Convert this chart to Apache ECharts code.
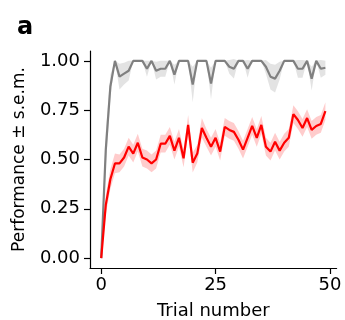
<!DOCTYPE html>
<html>
<head>
<meta charset="utf-8">
<script src="https://cdn.jsdelivr.net/npm/echarts@6/dist/echarts.min.js"></script>
<style>html,body{margin:0;padding:0;background:#fff;}#c{width:345px;height:320px;}</style>
</head>
<body>
<div id="c"></div>
<script>
const trials = Array.from({length: 50}, (_, i) => i);
const grayMean = [0.0, 0.55, 0.87, 1.0, 0.92, 0.935, 0.95, 1.0, 1.0, 1.0,
  0.96, 1.0, 0.95, 0.96, 0.96, 1.0, 0.93, 1.0, 1.0, 1.0,
  0.88, 1.0, 1.0, 1.0, 0.885, 1.0, 1.0, 1.0, 0.97, 0.96,
  1.0, 1.0, 0.96, 1.0, 1.0, 1.0, 0.97, 0.92, 0.91, 0.95,
  1.0, 1.0, 1.0, 0.96, 0.96, 1.0, 0.91, 1.0, 0.96, 0.965];
const graySem = [0.0, 0.09, 0.06, 0.0, 0.065, 0.055, 0.05, 0.0, 0.0, 0.0,
  0.04, 0.0, 0.045, 0.04, 0.04, 0.0, 0.05, 0.0, 0.0, 0.0,
  0.09, 0.0, 0.0, 0.0, 0.08, 0.0, 0.0, 0.0, 0.035, 0.05,
  0.0, 0.0, 0.045, 0.0, 0.0, 0.0, 0.035, 0.065, 0.07, 0.045,
  0.0, 0.0, 0.0, 0.045, 0.045, 0.0, 0.06, 0.0, 0.045, 0.035];
const redMean = [0.0, 0.27, 0.40, 0.48, 0.48, 0.51, 0.565, 0.53, 0.585, 0.51,
  0.50, 0.48, 0.50, 0.58, 0.58, 0.62, 0.545, 0.61, 0.506, 0.675,
  0.484, 0.53, 0.66, 0.61, 0.565, 0.61, 0.54, 0.665, 0.65, 0.64,
  0.60, 0.55, 0.61, 0.67, 0.61, 0.675, 0.565, 0.54, 0.59, 0.545,
  0.585, 0.61, 0.73, 0.70, 0.66, 0.71, 0.65, 0.67, 0.68, 0.745];
const redSem = [0.0, 0.05, 0.05, 0.05, 0.045, 0.045, 0.045, 0.045, 0.045, 0.045,
  0.045, 0.045, 0.045, 0.045, 0.045, 0.045, 0.045, 0.045, 0.045, 0.05,
  0.05, 0.045, 0.05, 0.045, 0.045, 0.045, 0.045, 0.045, 0.045, 0.045,
  0.045, 0.045, 0.045, 0.045, 0.045, 0.045, 0.045, 0.045, 0.045, 0.045,
  0.045, 0.045, 0.045, 0.045, 0.045, 0.045, 0.045, 0.045, 0.045, 0.045];
const xTicks = [0, 25, 50];
const yTicks = [0, 0.25, 0.5, 0.75, 1.0];

function pairs(vals) { return trials.map((t, i) => [t, vals[i]]); }

function bandSeries(mean, sem, color) {
  const rows = trials.map((t, i) => [t, mean[i] - sem[i], mean[i] + sem[i]]);
  return {
    type: 'custom',
    silent: true,
    z: 1,
    data: rows,
    encode: {x: 0, y: [1, 2]},
    renderItem: function (params, api) {
      if (params.dataIndex !== 0) return null;
      const upper = rows.map(r => api.coord([r[0], r[2]]));
      const lower = rows.slice().reverse().map(r => api.coord([r[0], r[1]]));
      return {
        type: 'polygon',
        shape: {points: upper.concat(lower)},
        style: {fill: color, stroke: null}
      };
    }
  };
}

const FONT = 'DejaVu Sans';
const chart = echarts.init(document.getElementById('c'), null, {renderer: 'canvas'});
chart.setOption({
  animation: false,
  backgroundColor: '#ffffff',
  title: {text: 'a', left: 12, top: 11, padding: 5, textStyle: {fontFamily: FONT, fontWeight: 'bold', fontSize: 24, color: '#000'}},
  grid: {left: 90, right: 8.4, top: 51, bottom: 52, containLabel: false, outerBoundsMode: 'none'},
  xAxis: {
    type: 'value', min: -2.45, max: 51.45,
    name: 'Trial number', nameLocation: 'middle', nameGap: 34,
    nameTextStyle: {fontFamily: FONT, fontSize: 18, color: '#000'},
    axisLine: {show: true, onZero: false, lineStyle: {color: '#000', width: 1.2}},
    axisTick: {show: true, length: 6, lineStyle: {color: '#000', width: 1.2}, customValues: xTicks},
    axisLabel: {fontFamily: FONT, fontSize: 18, color: '#000', margin: 8, customValues: xTicks},
    splitLine: {show: false}
  },
  yAxis: {
    type: 'value', min: -0.05, max: 1.05,
    name: 'Performance ± s.e.m.', nameLocation: 'middle', nameGap: 62,
    nameTextStyle: {fontFamily: FONT, fontSize: 17, color: '#000'},
    axisLine: {show: true, onZero: false, lineStyle: {color: '#000', width: 1.2}},
    axisTick: {show: true, length: 6, lineStyle: {color: '#000', width: 1.2}, customValues: yTicks},
    axisLabel: {fontFamily: FONT, fontSize: 18, color: '#000', margin: 10, customValues: yTicks,
      formatter: v => v.toFixed(2)},
    splitLine: {show: false}
  },
  series: [
    bandSeries(grayMean, graySem, 'rgba(128,128,128,0.22)'),
    bandSeries(redMean, redSem, 'rgba(255,0,0,0.2)'),
    {type: 'line', data: pairs(grayMean), showSymbol: false, lineStyle: {color: '#808080', width: 2.2}, z: 3},
    {type: 'line', data: pairs(redMean), showSymbol: false, lineStyle: {color: '#ff0000', width: 2.2}, z: 4}
  ]
});
</script>
</body>
</html>
